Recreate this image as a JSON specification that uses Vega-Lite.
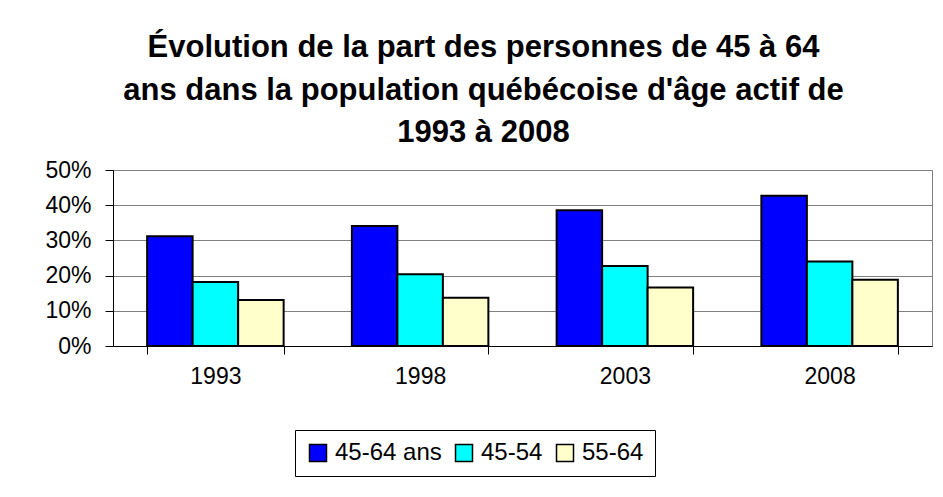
{
  "$schema": "https://vega.github.io/schema/vega-lite/v6.json",
  "width": 819,
  "height": 176,
  "autosize": {"type": "none"},
  "padding": {"left": 113, "top": 170, "right": 11, "bottom": 151},
  "background": "white",
  "config": {
    "font": "Liberation Sans",
    "view": {"stroke": "#808080", "strokeWidth": 1}
  },
  "title": {
    "text": ["Évolution de la part des personnes de 45 à 64", "ans dans la population québécoise d'âge actif de", "1993 à 2008"],
    "font": "Liberation Sans",
    "fontSize": 31,
    "fontWeight": "bold",
    "color": "black",
    "lineHeight": 42.5,
    "anchor": "middle",
    "frame": "group",
    "dx": -39,
    "offset": 10
  },
  "data": {
    "values": [
      {"annee": "1993", "groupe": "45-64 ans", "part": 0.312},
      {"annee": "1993", "groupe": "45-54", "part": 0.182},
      {"annee": "1993", "groupe": "55-64", "part": 0.131},
      {"annee": "1998", "groupe": "45-64 ans", "part": 0.341},
      {"annee": "1998", "groupe": "45-54", "part": 0.204},
      {"annee": "1998", "groupe": "55-64", "part": 0.137},
      {"annee": "2003", "groupe": "45-64 ans", "part": 0.386},
      {"annee": "2003", "groupe": "45-54", "part": 0.227},
      {"annee": "2003", "groupe": "55-64", "part": 0.166},
      {"annee": "2008", "groupe": "45-64 ans", "part": 0.427},
      {"annee": "2008", "groupe": "45-54", "part": 0.240},
      {"annee": "2008", "groupe": "55-64", "part": 0.188}
    ]
  },
  "mark": {"type": "bar", "stroke": "black", "strokeWidth": 2},
  "encoding": {
    "x": {
      "field": "annee",
      "type": "nominal",
      "sort": ["1993", "1998", "2003", "2008"],
      "scale": {"paddingInner": 0.3333, "paddingOuter": 0.1667},
      "axis": {
        "title": null,
        "labelAngle": 0,
        "labelFont": "Liberation Sans",
        "labelFontSize": 23,
        "labelColor": "black",
        "labelPadding": 11,
        "tickBand": "extent",
        "tickSize": 8,
        "tickColor": "black",
        "domainColor": "black",
        "grid": false
      }
    },
    "xOffset": {
      "field": "groupe",
      "type": "nominal",
      "sort": ["45-64 ans", "45-54", "55-64"],
      "scale": {"paddingInner": 0, "paddingOuter": 0}
    },
    "y": {
      "field": "part",
      "type": "quantitative",
      "scale": {"domain": [0, 0.5], "nice": false},
      "axis": {
        "title": null,
        "values": [0, 0.1, 0.2, 0.3, 0.4, 0.5],
        "format": ".0%",
        "labelFont": "Liberation Sans",
        "labelFontSize": 23,
        "labelColor": "black",
        "labelPadding": 14,
        "tickSize": 8,
        "tickColor": "black",
        "domainColor": "black",
        "gridColor": "#808080",
        "gridOpacity": 1
      }
    },
    "color": {
      "field": "groupe",
      "type": "nominal",
      "sort": ["45-64 ans", "45-54", "55-64"],
      "scale": {"domain": ["45-64 ans", "45-54", "55-64"], "range": ["#0000FF", "#00FFFF", "#FFFFCC"]},
      "legend": {
        "title": null,
        "orient": "none",
        "direction": "horizontal",
        "legendX": 182,
        "legendY": 260,
        "strokeColor": "black",
        "fillColor": "white",
        "padding": 11,
        "symbolType": "square",
        "symbolSize": 289,
        "symbolStrokeColor": "black",
        "symbolStrokeWidth": 1.5,
        "symbolOpacity": 1,
        "labelFont": "Liberation Sans",
        "labelFontSize": 24,
        "labelColor": "black",
        "labelOffset": 5,
        "columnPadding": 10
      }
    }
  }
}
